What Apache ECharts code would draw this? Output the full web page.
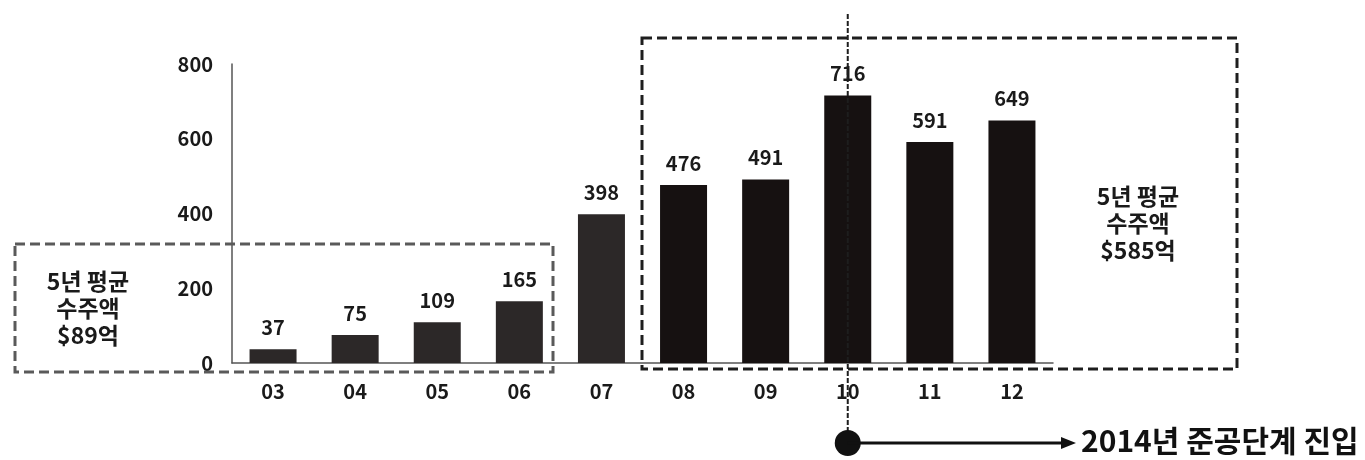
<!DOCTYPE html>
<html>
<head>
<meta charset="utf-8">
<script src="https://cdn.jsdelivr.net/npm/echarts@6/dist/echarts.min.js"></script>
<style>
  html, body { margin: 0; padding: 0; background: #ffffff; }
  #chart { width: 1365px; height: 460px; }
</style>
</head>
<body>
<div id="chart"></div>
<script>
// ---- data ----
const years = ['03', '04', '05', '06', '07', '08', '09', '10', '11', '12'];
const orders = [37, 75, 109, 165, 398, 476, 491, 716, 591, 649];
const yMin = 0;
const yMax = 800;
const yInterval = 200;
const leftNote = ['5년 평균', '수주액', '$89억'];
const rightNote = ['5년 평균', '수주액', '$585억'];
const milestoneYear = '10';
const milestoneText = '2014년 준공단계 진입';

// ---- chart ----
const FONT = '"Noto Sans CJK KR", "Noto Sans", sans-serif';
const chart = echarts.init(document.getElementById('chart'), null, { renderer: 'canvas' });

chart.setOption({
  backgroundColor: '#ffffff',
  animation: false,
  grid: { left: 232, right: 312, top: 64, bottom: 97, containLabel: false },
  xAxis: {
    type: 'category',
    data: years,
    axisLine: { show: true, lineStyle: { color: '#555', width: 1.5 } },
    axisTick: { show: false },
    axisLabel: { color: '#1a1a1a', fontFamily: FONT, fontWeight: 'bold', fontSize: 20, margin: 18 },
    splitLine: { show: false }
  },
  yAxis: {
    type: 'value',
    min: yMin, max: yMax, interval: yInterval,
    axisLine: { show: true, lineStyle: { color: '#555', width: 1.5 } },
    axisTick: { show: false },
    axisLabel: { color: '#1a1a1a', fontFamily: FONT, fontWeight: 'bold', fontSize: 20, margin: 19 },
    splitLine: { show: false }
  },
  series: [{
    type: 'bar',
    data: orders,
    barWidth: 47,
    itemStyle: {
      color: function (p) { return p.dataIndex < 5 ? '#2c2828' : '#161111'; }
    },
    label: {
      show: true,
      position: 'top',
      distance: 12,
      color: '#1a1a1a',
      fontFamily: FONT,
      fontWeight: 'bold',
      fontSize: 20
    }
  }]
});

// ---- annotations (positioned from the chart's own scales) ----
const xMs = chart.convertToPixel({ xAxisIndex: 0 }, milestoneYear);
const noteFont = 'bold 23px ' + FONT;

function noteTexts(lines, cx, cy) {
  return lines.map(function (t, i) {
    return {
      type: 'text', z: 20,
      style: {
        text: t, x: cx, y: cy + (i - 1) * 27,
        fill: '#1a1a1a', font: noteFont,
        textAlign: 'center', textVerticalAlign: 'middle'
      }
    };
  });
}

const graphics = [
  // left dashed box
  { type: 'rect', z: 10, shape: { x: 15, y: 244, width: 538, height: 128 },
    style: { fill: 'none', stroke: '#5a5a5a', lineWidth: 3, lineDash: [10, 5] } },
  // right dashed box
  { type: 'rect', z: 10, shape: { x: 642, y: 38, width: 595, height: 331 },
    style: { fill: 'none', stroke: '#1e1e1e', lineWidth: 3, lineDash: [10, 5] } },
  // vertical dashed milestone line
  { type: 'line', z: 11, shape: { x1: xMs, y1: 14, x2: xMs, y2: 432 },
    style: { stroke: '#1e1e1e', lineWidth: 2, lineDash: [5, 2] } },
  // dot
  { type: 'circle', z: 12, shape: { cx: xMs, cy: 443, r: 13 }, style: { fill: '#111' } },
  // arrow shaft
  { type: 'line', z: 12, shape: { x1: xMs, y1: 443, x2: 1066, y2: 443 },
    style: { stroke: '#111', lineWidth: 3 } },
  // arrow head
  { type: 'polygon', z: 12, shape: { points: [[1061, 437], [1076, 443], [1061, 449]] },
    style: { fill: '#111' } },
  { type: 'text', z: 12,
    style: { text: milestoneText, x: 1081, y: 441, fill: '#111',
      font: 'bold 30px ' + FONT, textAlign: 'left', textVerticalAlign: 'middle' } }
].concat(noteTexts(leftNote, 88, 308), noteTexts(rightNote, 1138, 223));

chart.setOption({ graphic: graphics });
</script>
</body>
</html>
